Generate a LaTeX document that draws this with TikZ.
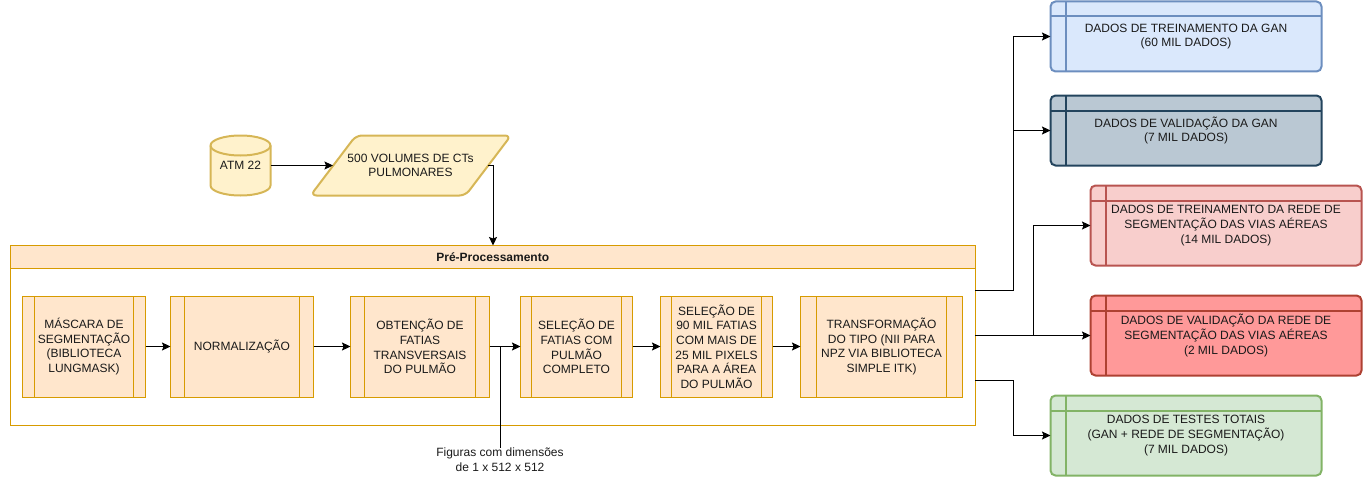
\documentclass[tikz,border=0pt]{standalone}
\usepackage{fontspec}
\setmainfont{Liberation Sans}
\usetikzlibrary{arrows.meta}
\definecolor{txt}{HTML}{1A1A1A}
\definecolor{orS}{HTML}{D79B00}\definecolor{orF}{HTML}{FFE6CC}
\definecolor{yeS}{HTML}{D6B656}\definecolor{yeF}{HTML}{FFF2CC}
\definecolor{blS}{HTML}{6C8EBF}\definecolor{blF}{HTML}{DAE8FC}
\definecolor{slS}{HTML}{23445D}\definecolor{slF}{HTML}{BAC8D3}
\definecolor{piS}{HTML}{B85450}\definecolor{piF}{HTML}{F8CECC}
\definecolor{reS}{HTML}{AE4132}\definecolor{reF}{HTML}{FF9999}
\definecolor{grS}{HTML}{82B366}\definecolor{grF}{HTML}{D5E8D4}
\tikzset{
  base/.style={outer sep=0pt,inner sep=0pt,align=center,text=txt,font=\fontsize{12}{14.6}\selectfont},
  procbox/.style={base,draw=orS,fill=orF,line width=1pt},
  databox/.style={base,rounded corners=5pt,line width=2pt},
  yellowshape/.style={draw=yeS,fill=yeF,line width=2pt,line join=round},
  link/.style={line width=1pt,black,-{Stealth[length=8.5pt,width=8pt,inset=1.5pt]}},
  plain/.style={line width=1pt,black},
}
% name, x0, x1, left inset, right inset, text
\newcommand{\procnode}[6]{%
  \pgfmathsetmacro{\cxx}{(#2+#3)/2}\pgfmathsetmacro{\wdd}{#3-#2}
  \node[procbox,minimum width=\wdd pt,minimum height=101pt] (#1) at (\cxx,346.5) {#6};
  \draw[orS,line width=1pt] ([xshift=#4pt]#1.north west) -- ([xshift=#4pt]#1.south west);
  \draw[orS,line width=1pt] ([xshift=-#5pt]#1.north east) -- ([xshift=-#5pt]#1.south east);
}
% name, colour prefix, x0, y0, height, text
\newcommand{\datanode}[6]{%
  \pgfmathsetmacro{\cxx}{#3+135.5}\pgfmathsetmacro{\cyy}{#4+#5/2}
  \node[databox,draw=#2S,fill=#2F,minimum width=271pt,minimum height=#5 pt] (#1) at (\cxx,\cyy) {#6};
  \draw[#2S,line width=2pt] ([xshift=15pt]#1.north west) -- ([xshift=15pt]#1.south west);
  \draw[#2S,line width=2pt] ([yshift=-15pt]#1.north west) -- ([yshift=-15pt]#1.north east);
}
\begin{document}
\begin{tikzpicture}[x=1pt,y=-1pt]
\useasboundingbox (0,0) rectangle (1363,487);
% cylinder body and parallelogram outlines
\draw[yellowshape] (210.5,145.5) -- (210.5,185.5) arc[start angle=180,end angle=360,x radius=30,y radius=-10] -- (270.5,145.5) arc[start angle=0,end angle=180,x radius=30,y radius=-10] -- cycle;
\draw[yellowshape,fill=none] (210.5,145.5) arc[start angle=180,end angle=360,x radius=30,y radius=-10];
\draw[yellowshape,rounded corners=6pt] (310.5,195.5) -- (356,135.5) -- (511,135.5) -- (465.5,195.5) -- cycle;
\node[base,minimum width=60pt,minimum height=60pt] (atm) at (240.5,165.5) {ATM 22};
\node[base,minimum width=155pt,minimum height=60pt] (vol) at (410.5,165.5) {500 VOLUMES DE CTs\\PULMONARES};
\node[base,draw=orS,fill=white,line width=1pt,minimum width=965pt,minimum height=180pt] (lane) at (492.75,335.5) {};
\node[base,draw=orS,fill=orF,line width=1pt,minimum width=965pt,minimum height=22.5pt] (head) at (492.75,256.75) {\bfseries Pré-Processamento};
\procnode{m1}{22.5}{145.5}{12}{12}{MÁSCARA DE\\SEGMENTAÇÃO\\(BIBLIOTECA\\LUNGMASK)}
\procnode{m2}{170.5}{313.5}{14}{14}{NORMALIZAÇÃO}
\procnode{m3}{350.5}{489.5}{14}{14}{OBTENÇÃO DE\\FATIAS\\TRANSVERSAIS\\DO PULMÃO}
\procnode{m4}{520.5}{632.5}{11}{11}{SELEÇÃO DE\\FATIAS COM\\PULMÃO\\COMPLETO}
\procnode{m5}{660.5}{772.5}{11}{11}{SELEÇÃO DE\\90 MIL FATIAS\\COM MAIS DE\\25 MIL PIXELS\\PARA A ÁREA\\DO PULMÃO}
\procnode{m6}{800.5}{962.5}{16}{16}{TRANSFORMAÇÃO\\DO TIPO (NII PARA\\NPZ VIA BIBLIOTECA\\SIMPLE ITK)}
\datanode{d1}{bl}{1050.5}{1.5}{70}{DADOS DE TREINAMENTO DA GAN\\(60 MIL DADOS)}
\datanode{d2}{sl}{1050.5}{95.5}{70}{DADOS DE VALIDAÇÃO DA GAN\\(7 MIL DADOS)}
\datanode{d3}{pi}{1090.5}{185.5}{80}{DADOS DE TREINAMENTO DA REDE DE\\SEGMENTAÇÃO DAS VIAS AÉREAS\\(14 MIL DADOS)}
\datanode{d4}{re}{1090.5}{295.5}{80}{DADOS DE VALIDAÇÃO DA REDE DE\\SEGMENTAÇÃO DAS VIAS AÉREAS\\(2 MIL DADOS)}
\datanode{d5}{gr}{1050.5}{395.5}{80}{DADOS DE TESTES TOTAIS\\(GAN + REDE DE SEGMENTAÇÃO)\\(7 MIL DADOS)}
\node[base] (fig) at (500,460) {Figuras com dimensões\\de 1 x 512 x 512};
% connectors
\coordinate (volx) at (493,165.5);
\coordinate (headin) at (493,245.5);
\draw[link] (atm.east) -- (vol.west);
\draw[link] (vol.east) -- (volx) -- (headin);
\foreach \a/\b in {m1/m2,m2/m3,m3/m4,m4/m5,m5/m6}{\draw[link] (\a) -- (\b);}
\coordinate (tap) at (500,346.5);
\draw[plain] (tap) -- (fig.north -| tap);
\coordinate (o1) at ([yshift=45pt]lane.east);
\coordinate (o3) at ([yshift=-45pt]lane.east);
\coordinate (j1) at (1013,290.5);
\coordinate (j2) at (1033,335.5);
\coordinate (j3) at (1013,380.5);
\draw[link] (o1) -- (j1) |- (d1.west);
\draw[link] (j1) |- (d2.west);
\draw[link] (lane.east) -- (d4.west);
\draw[link] (j2) |- (d3.west);
\draw[link] (o3) -- (j3) |- (d5.west);
\end{tikzpicture}
\end{document}
